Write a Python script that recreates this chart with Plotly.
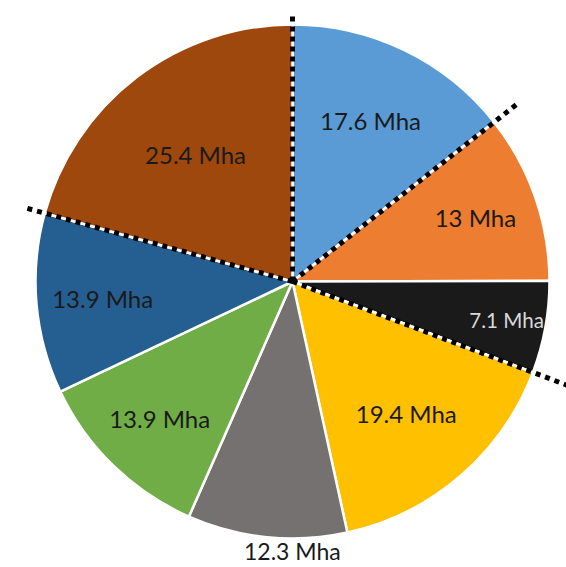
import math
import plotly.graph_objects as go

# Data (clockwise from 12 o'clock)
values = [17.6, 13.0, 7.1, 19.4, 12.3, 13.9, 13.9, 25.4]
labels = ["17.6 Mha", "13 Mha", "7.1 Mha", "19.4 Mha", "12.3 Mha", "13.9 Mha", "13.9 Mha", "25.4 Mha"]
colors = ["#5B9BD5", "#ED7D31", "#1A1A1A", "#FFC000", "#767171", "#70AD47", "#255E91", "#9E480E"]
text_colors = ["#1a1a1a", "#1a1a1a", "#d9d9d9", "#1a1a1a", "#1a1a1a", "#1a1a1a", "#1a1a1a", "#1a1a1a"]
# slice whose label sits outside, below the pie
outside_index = 4
# slice boundaries (index of slice that starts at the boundary) marked with dotted lines, and their length factor
dotted_boundaries = [0, 1, 3, 7]
dotted_lengths = [1.045, 1.12, 1.2, 1.08]

W, H = 566, 567
cx_px, cy_px, r_px = 292.5, 285.5, 257  # cy measured from bottom
dom_x = [(cx_px - r_px) / W, (cx_px + r_px) / W]
dom_y = [(cy_px - r_px) / H, (cy_px + r_px) / H]

FONT = "Lato"
FS = 24

slice_text = [("" if i == outside_index else t) for i, t in enumerate(labels)]

fig = go.Figure(go.Pie(
    values=values,
    text=slice_text,
    textinfo="text",
    hoverinfo="none",
    sort=False,
    direction="clockwise",
    rotation=0,
    marker=dict(colors=colors, line=dict(color="white", width=2.5)),
    textposition="inside",
    insidetextorientation="horizontal",
    textfont=dict(family=FONT, size=FS, color=text_colors),
    domain=dict(x=dom_x, y=dom_y),
    showlegend=False,
))

total = sum(values)
shapes = []
for idx, lf in zip(dotted_boundaries, dotted_lengths):
    ang = sum(values[:idx]) / total * 2 * math.pi
    x1 = cx_px + lf * r_px * math.sin(ang)
    y1 = cy_px + lf * r_px * math.cos(ang)
    shapes.append(dict(
        type="line", xref="paper", yref="paper",
        x0=cx_px / W, y0=cy_px / H, x1=x1 / W, y1=y1 / H,
        line=dict(color="black", width=5, dash="dot"),
    ))

# outside label under the pie
annotations = [dict(
    xref="paper", yref="paper",
    x=cx_px / W, y=(cy_px - r_px + 3) / H,
    xanchor="center", yanchor="top",
    text=labels[outside_index], showarrow=False, borderpad=0,
    font=dict(family=FONT, size=FS - 1, color="#1a1a1a"),
)]

fig.update_layout(
    width=W, height=H,
    margin=dict(l=0, r=0, t=0, b=0),
    paper_bgcolor="white",
    plot_bgcolor="white",
    shapes=shapes,
    annotations=annotations,
)

fig.write_html("out.html")
